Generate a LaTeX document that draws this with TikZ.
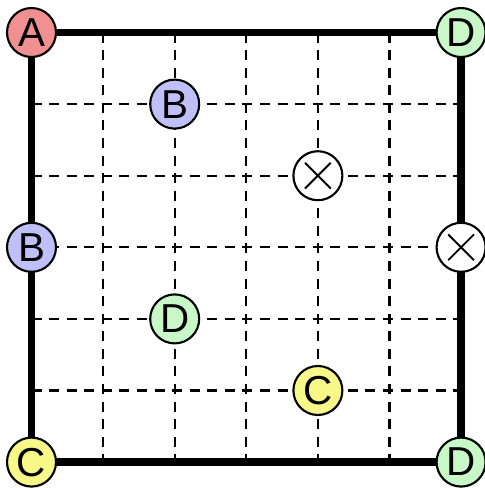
\documentclass[tikz,border=0pt]{standalone}
\usepackage{fontspec}
\setmainfont{Liberation Sans}
\usetikzlibrary{positioning}
\definecolor{redA}{HTML}{F09090}
\definecolor{blueB}{HTML}{C0C0F8}
\definecolor{yellowC}{HTML}{F8F888}
\definecolor{greenD}{HTML}{C8F8C8}
\begin{document}
\begin{tikzpicture}[x=1.432cm,y=-1.432cm,
 pt/.style={circle,draw=black,line width=1.2pt,minimum size=0.98cm,inner sep=0pt,font=\fontsize{23}{23}\selectfont},
 xpt/.style={pt,fill=white,path picture={
   \draw[line width=1.1pt] ([shift={(-0.18,-0.18)}]path picture bounding box.center)--([shift={(0.18,0.18)}]path picture bounding box.center);
   \draw[line width=1.1pt] ([shift={(-0.18,0.18)}]path picture bounding box.center)--([shift={(0.18,-0.18)}]path picture bounding box.center);}},
 grd/.style={dash pattern=on 5.7pt off 4.3pt,line width=1.3pt},
 bd/.style={line width=4.5pt,shorten <=-1pt,shorten >=-1pt}]
\useasboundingbox (-0.44,-0.454) rectangle (6.334,6.362);
% grid
\foreach \i in {1,...,5} {
  \draw[grd] (\i,0)--(\i,6);
  \draw[grd] (0,\i)--(6,\i);
}
% points
\node[pt,fill=redA] (a) at (0,0) {A};
\node[pt,fill=greenD] (dtr) at (6,0) {D};
\node[pt,fill=blueB] (b1) at (2,1) {B};
\node[xpt] (x1) at (4,2) {};
\node[pt,fill=blueB] (bl) at (0,3) {B};
\node[xpt] (xr) at (6,3) {};
\node[pt,fill=greenD] (d1) at (2,4) {D};
\node[pt,fill=yellowC] (c1) at (4,5) {C};
\node[pt,fill=yellowC] (cbl) at (0,6) {C};
\node[pt,fill=greenD] (dbr) at (6,6) {D};
% border
\draw[bd] (a)--(dtr);
\draw[bd] (dtr)--(xr);
\draw[bd] (xr)--(dbr);
\draw[bd] (dbr)--(cbl);
\draw[bd] (cbl)--(bl);
\draw[bd] (bl)--(a);
\end{tikzpicture}
\end{document}
